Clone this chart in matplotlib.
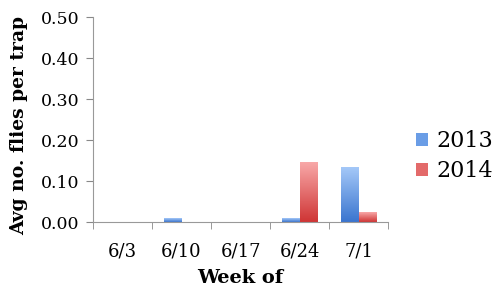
import matplotlib
matplotlib.use("Agg")
import matplotlib.pyplot as plt
import numpy as np
from matplotlib.colors import LinearSegmentedColormap
from matplotlib.patches import Patch

weeks = ["6/3", "6/10", "6/17", "6/24", "7/1"]
flies_2013 = [0.0, 0.008, 0.0, 0.008, 0.134]
flies_2014 = [0.0, 0.0, 0.0, 0.144, 0.024]

plt.rcParams['font.family'] = ['DejaVu Serif']

blue_cmap = LinearSegmentedColormap.from_list("b", ["#3a75cf", "#a4c8f8"])
red_cmap = LinearSegmentedColormap.from_list("r", ["#cf3535", "#f8a8a8"])

fig = plt.figure(figsize=(5, 2.95), dpi=100)
ax = fig.add_axes([0.186, 0.247, 0.59, 0.695])

x = np.arange(len(weeks))
width = 0.29
grad = np.linspace(0, 1, 100).reshape(-1, 1)


def gradient_bars(xpos, heights, cmap, label):
    bars = ax.bar(xpos, heights, width, align='edge', color='none',
                  edgecolor='none', label=label)
    for b in bars:
        h = b.get_height()
        if h <= 0:
            continue
        x0 = b.get_x()
        ax.imshow(grad, cmap=cmap, origin='lower', aspect='auto',
                  extent=(x0, x0 + b.get_width(), 0, h), zorder=2)
    return bars


gradient_bars(x - width, flies_2013, blue_cmap, "2013")
gradient_bars(x, flies_2014, red_cmap, "2014")

ax.set_xlim(-0.5, len(weeks) - 0.5)
ax.set_ylim(0, 0.5)
ax.set_yticks(np.arange(0, 0.51, 0.1))
ax.set_yticklabels([f"{v:.2f}" for v in np.arange(0, 0.51, 0.1)], fontsize=12.5)
ax.set_xticks(x)
ax.set_xticklabels(weeks, fontsize=13)
ax.set_xticks(np.arange(-0.5, len(weeks), 1), minor=True)
ax.tick_params(axis='x', which='major', length=0, pad=15)
ax.tick_params(axis='x', which='minor', length=5, color='#888888')
ax.tick_params(axis='y', length=5, color='#888888', pad=5)

for s in ['top', 'right']:
    ax.spines[s].set_visible(False)
for s in ['left', 'bottom']:
    ax.spines[s].set_color('#999999')

ax.set_ylabel("Avg no. flies per trap", fontsize=13.5, fontweight='bold')
ax.yaxis.set_label_coords(-0.22, 0.47)
ax.set_xlabel("Week of", fontsize=14, fontweight='bold', labelpad=6)

handles = [Patch(facecolor="#6a9de6", label="2013"),
           Patch(facecolor="#e36a6a", label="2014")]
fig.legend(handles=handles, loc='center left', bbox_to_anchor=(0.81, 0.47),
           frameon=False, fontsize=16, handlelength=0.55, handleheight=0.55,
           handletextpad=0.35, labelspacing=0.35, borderpad=0)

fig.savefig("out.png", dpi=100)
